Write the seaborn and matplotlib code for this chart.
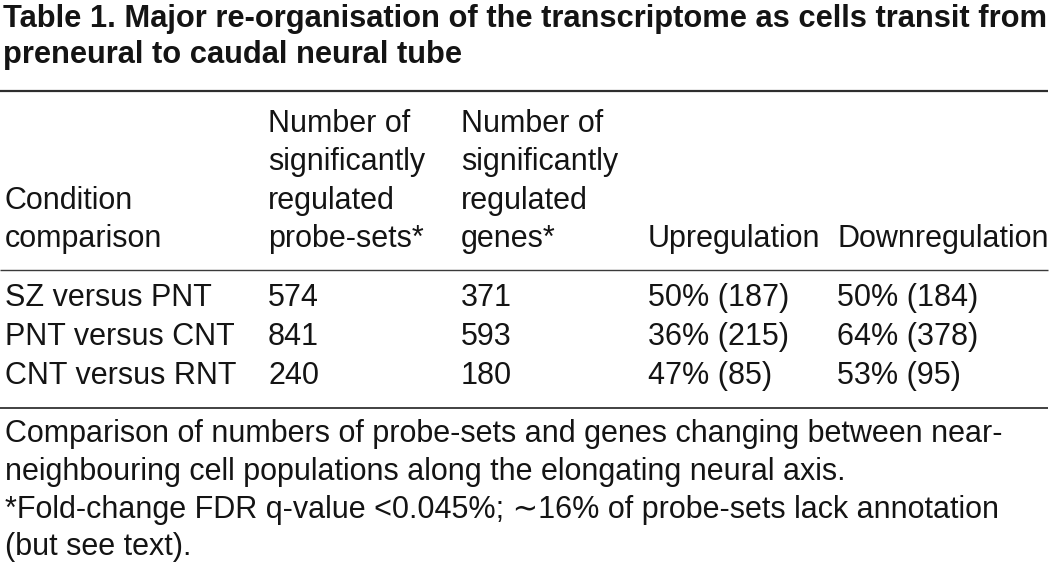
import matplotlib
matplotlib.use("Agg")
import matplotlib.pyplot as plt
import seaborn as sns

# ---- data ----
title_lines = [
    "Table 1. Major re-organisation of the transcriptome as cells transit from",
    "preneural to caudal neural tube",
]
header_cols = [
    ["", "", "Condition", "comparison"],
    ["Number of", "significantly", "regulated", "probe-sets*"],
    ["Number of", "significantly", "regulated", "genes*"],
    ["", "", "", "Upregulation"],
    ["", "", "", "Downregulation"],
]
conditions = ["SZ versus PNT", "PNT versus CNT", "CNT versus RNT"]
probe_sets = [574, 841, 240]
genes = [371, 593, 180]
up_pct = [50, 36, 47]
up_n = [187, 215, 85]
down_pct = [50, 64, 53]
down_n = [184, 378, 95]
footnotes = [
    "Comparison of numbers of probe-sets and genes changing between near-",
    "neighbouring cell populations along the elongating neural axis.",
    "*Fold-change FDR q-value <0.045%; \u223c16% of probe-sets lack annotation",
    "(but see text).",
]

# ---- layout ----
sns.set_theme(style="white")
plt.rcParams["font.family"] = ["Liberation Sans", "DejaVu Sans"]
W, H = 1056, 571
fig = plt.figure(figsize=(W / 100, H / 100), dpi=100)
ax = fig.add_axes([0, 0, 1, 1])
ax.set_xlim(0, W)
ax.set_ylim(H, 0)
ax.axis("off")

ink = "#141414"
fs = 22.0
col_x = [5, 268, 461, 648, 837]

# title
for i, line in enumerate(title_lines):
    ax.text(3, 27 + 36 * i, line, fontsize=22.25, fontweight="bold", color=ink,
            va="baseline", ha="left")

# rules
ax.plot([0, 1048], [91, 91], color="#2e2e2e", lw=1.6, solid_capstyle="butt")
ax.plot([0, 1048], [270, 270], color="#3a3a3a", lw=1.0, solid_capstyle="butt")
ax.plot([0, 1048], [408, 408], color="#333333", lw=1.3, solid_capstyle="butt")

# header
header_y = [132, 170, 209, 247]
for cx, lines in zip(col_x, header_cols):
    for y, t in zip(header_y, lines):
        if t:
            ax.text(cx, y, t, fontsize=fs, color=ink, va="baseline", ha="left")

# body
row_y = [306, 345, 384]
for i, y in enumerate(row_y):
    cells = [
        conditions[i],
        str(probe_sets[i]),
        str(genes[i]),
        f"{up_pct[i]}% ({up_n[i]})",
        f"{down_pct[i]}% ({down_n[i]})",
    ]
    for cx, t in zip(col_x, cells):
        ax.text(cx, y, t, fontsize=fs, color=ink, va="baseline", ha="left")

# footnotes
foot_y = [442, 480, 518, 555]
for y, t in zip(foot_y, footnotes):
    ax.text(5, y, t, fontsize=fs, color=ink, va="baseline", ha="left")

fig.savefig("out.png", dpi=100, facecolor="white")
